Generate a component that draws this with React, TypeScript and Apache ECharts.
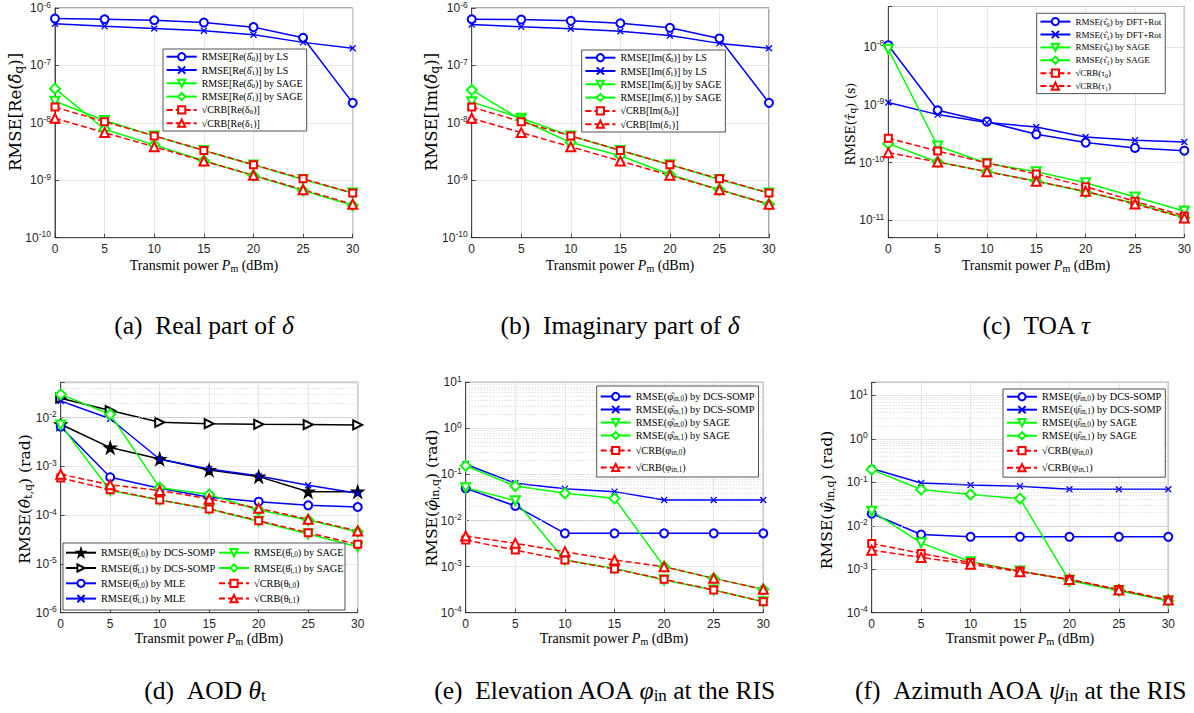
import React, { useEffect, useRef } from 'react';
import * as echarts from 'echarts';

const powers = [0, 5, 10, 15, 20, 25, 30];

// (a) Real part of delta
const aLS0 = [6.55e-7, 6.37e-7, 6.12e-7, 5.58e-7, 4.64e-7, 3.03e-7, 2.23e-8];
const aLS1 = [5.3e-7, 4.82e-7, 4.4e-7, 4.01e-7, 3.42e-7, 2.52e-7, 1.99e-7];
const aSAGE0 = [2.38e-8, 1.1e-8, 5.93e-9, 3.31e-9, 1.85e-9, 1.03e-9, 5.98e-10];
const aSAGE1 = [3.94e-8, 7.73e-9, 4.14e-9, 2.19e-9, 1.21e-9, 6.65e-10, 3.66e-10];
const aCRB0 = [1.88e-8, 1.05e-8, 5.93e-9, 3.31e-9, 1.87e-9, 1.06e-9, 5.98e-10];
const aCRB1 = [1.2e-8, 6.76e-9, 3.83e-9, 2.16e-9, 1.22e-9, 6.84e-10, 3.81e-10];

// (b) Imaginary part of delta
const bLS0 = [6.37e-7, 6.29e-7, 5.97e-7, 5.43e-7, 4.52e-7, 2.95e-7, 2.23e-8];
const bLS1 = [5.15e-7, 4.7e-7, 4.34e-7, 3.95e-7, 3.33e-7, 2.42e-7, 1.99e-7];
const bSAGE0 = [2.32e-8, 1.2e-8, 5.93e-9, 3.31e-9, 1.87e-9, 1.03e-9, 5.98e-10];
const bSAGE1 = [3.74e-8, 1.12e-8, 4.55e-9, 2.67e-9, 1.26e-9, 6.84e-10, 3.81e-10];
const bCRB0 = [1.88e-8, 1.05e-8, 5.93e-9, 3.31e-9, 1.87e-9, 1.06e-9, 5.98e-10];
const bCRB1 = [1.2e-8, 6.76e-9, 3.83e-9, 2.16e-9, 1.22e-9, 6.84e-10, 3.81e-10];

// (c) TOA
const cDFT0 = [1.07e-8, 8.0e-10, 5.09e-10, 3.07e-10, 2.21e-10, 1.79e-10, 1.6e-10];
const cDFT1 = [1.09e-9, 6.74e-10, 4.9e-10, 4.12e-10, 2.77e-10, 2.42e-10, 2.27e-10];
const cSAGE0 = [9.1e-9, 1.93e-10, 9.7e-11, 6.9e-11, 4.48e-11, 2.53e-11, 1.45e-11];
const cSAGE1 = [2.12e-10, 1.02e-10, 6.95e-11, 4.78e-11, 3.09e-11, 1.97e-11, 1.11e-11];
const cCRB0 = [2.62e-10, 1.58e-10, 9.82e-11, 6.34e-11, 3.82e-11, 2.13e-11, 1.19e-11];
const cCRB1 = [1.48e-10, 1.02e-10, 6.95e-11, 4.73e-11, 3.17e-11, 1.91e-11, 1.1e-11];

// (d) AOD
const dDCS0 = [7.3e-3, 2.43e-3, 1.42e-3, 8.44e-4, 6.16e-4, 3.03e-4, 3.03e-4];
const dDCS1 = [2.5e-2, 1.4e-2, 8.02e-3, 7.53e-3, 7.3e-3, 7.2e-3, 7.07e-3];
const dMLE0 = [6.5e-3, 6.0e-4, 3.55e-4, 2.32e-4, 1.89e-4, 1.59e-4, 1.47e-4];
const dMLE1 = [2.2e-2, 9.5e-3, 1.4e-3, 8.85e-4, 6.36e-4, 4.09e-4, 2.81e-4];
const dSAGE0 = [7.1e-3, 3.2e-4, 2.05e-4, 1.34e-4, 7.48e-5, 4.11e-5, 2.26e-5];
const dSAGE1 = [3.0e-2, 1.17e-2, 3.66e-4, 2.64e-4, 1.28e-4, 7.96e-5, 4.59e-5];
const dCRB0 = [5.78e-4, 3.33e-4, 2.05e-4, 1.34e-4, 7.7e-5, 4.37e-5, 2.52e-5];
const dCRB1 = [6.9e-4, 4.2e-4, 3.2e-4, 2.15e-4, 1.38e-4, 8.2e-5, 4.73e-5];

// (e) Elevation AOA
const eDCS0 = [5.0e-2, 2.07e-2, 5.27e-3, 5.27e-3, 5.27e-3, 5.27e-3, 5.27e-3];
const eDCS1 = [0.166, 6.42e-2, 4.92e-2, 4.24e-2, 2.79e-2, 2.79e-2, 2.79e-2];
const eSAGE0 = [5.17e-2, 2.7e-2, 1.39e-3, 9.16e-4, 5.12e-4, 3.1e-4, 1.73e-4];
const eSAGE1 = [0.155, 5.62e-2, 3.9e-2, 3.03e-2, 9.97e-4, 5.56e-4, 3.21e-4];
const eCRB0 = [3.77e-3, 2.29e-3, 1.39e-3, 8.87e-4, 5.3e-4, 3.1e-4, 1.73e-4];
const eCRB1 = [4.61e-3, 3.2e-3, 2.11e-3, 1.39e-3, 9.97e-4, 5.56e-4, 3.21e-4];

// (f) Azimuth AOA
const fDCS0 = [1.91e-2, 6.3e-3, 5.57e-3, 5.57e-3, 5.57e-3, 5.57e-3, 5.57e-3];
const fDCS1 = [0.207, 9.68e-2, 8.7e-2, 8.12e-2, 6.93e-2, 6.93e-2, 6.93e-2];
const fSAGE0 = [2.16e-2, 4.05e-3, 1.49e-3, 9.06e-4, 5.63e-4, 3.2e-4, 1.89e-4];
const fSAGE1 = [0.196, 6.81e-2, 5.23e-2, 4.23e-2, 5.43e-4, 3.32e-4, 1.89e-4];
const fCRB0 = [3.92e-3, 2.31e-3, 1.43e-3, 9.06e-4, 5.83e-4, 3.44e-4, 1.95e-4];
const fCRB1 = [2.75e-3, 1.87e-3, 1.31e-3, 8.74e-4, 5.83e-4, 3.32e-4, 1.95e-4];

const yRanges: [number, number][] = [
  [1e-10, 1e-6], [1e-10, 1e-6], [5e-12, 5e-8],
  [1e-6, 0.053], [1e-4, 10], [1e-4, 20],
];

const SERIF = "'Liberation Serif', 'DejaVu Serif', serif";
const WSERIF = "'DejaVu Serif', 'Liberation Serif', serif";
const SANS = "'Liberation Sans', Arial, sans-serif";
const BLUE = '#0000ff', GREEN = '#00ff00', RED = '#ff0000', BLACK = '#000000';
const CROSS = 'path://M0,0L10,10M10,0L0,10';
const STAR = 'path://M5,0L6.12,3.45L9.76,3.45L6.82,5.59L7.94,9.05L5,6.91L2.06,9.05L3.18,5.59L0.24,3.45L3.88,3.45Z';
const H = '\u0302';

const grids = [
  { left: 55, top: 6.5, width: 297.7, height: 231.2 },
  { left: 471.7, top: 6.5, width: 297.3, height: 231.2 },
  { left: 888.3, top: 6.5, width: 296.4, height: 231.2 },
  { left: 60.7, top: 382.3, width: 297, height: 230.4 },
  { left: 465.7, top: 382.3, width: 297.6, height: 230.4 },
  { left: 871.7, top: 382.3, width: 296.6, height: 230.4 },
];

type Mk = { sym: string; size: number; rot?: number };
const M: Record<string, Mk> = {
  circ: { sym: 'emptyCircle', size: 8 },
  x: { sym: CROSS, size: 6 },
  tdown: { sym: 'emptyTriangle', size: 9, rot: 180 },
  tup: { sym: 'emptyTriangle', size: 9 },
  tright: { sym: 'emptyTriangle', size: 9, rot: -90 },
  dia: { sym: 'emptyDiamond', size: 10 },
  sq: { sym: 'emptyRect', size: 7 },
  star: { sym: STAR, size: 12 },
};

function line(g: number, name: string, data: number[], color: string, mk: Mk, dashed = false) {
  return {
    type: 'line',
    name,
    xAxisIndex: g,
    yAxisIndex: g,
    data: powers.map((p, i) => [p, data[i]]),
    symbol: mk.sym,
    symbolSize: mk.size,
    symbolRotate: mk.rot || 0,
    lineStyle: { color, width: 1.5, type: dashed ? [6, 3] : 'solid' },
    itemStyle: { color, borderColor: color, borderWidth: 1.3 },
    z: 2,
  };
}

const N = {
  a: [
    `RMSE[Re(δ${H}{s|0})] by LS`, `RMSE[Re(δ${H}{s|1})] by LS`,
    `RMSE[Re(δ${H}{s|0})] by SAGE`, `RMSE[Re(δ${H}{s|1})] by SAGE`,
    `√CRB[Re(δ{s|0})]`, `√CRB[Re(δ{s|1})]`,
  ],
  b: [
    `RMSE[Im(δ${H}{s|0})] by LS`, `RMSE[Im(δ${H}{s|1})] by LS`,
    `RMSE[Im(δ${H}{s|0})] by SAGE`, `RMSE[Im(δ${H}{s|1})] by SAGE`,
    `√CRB[Im(δ{s|0})]`, `√CRB[Im(δ{s|1})]`,
  ],
  c: [
    `RMSE(τ${H}{s|0}) by DFT+Rot`, `RMSE(τ${H}{s|1}) by DFT+Rot`,
    `RMSE(τ${H}{s|0}) by SAGE`, `RMSE(τ${H}{s|1}) by SAGE`,
    `√CRB(τ{s|0})`, `√CRB(τ{s|1})`,
  ],
  d: [
    `RMSE(θ${H}{s|t,0}) by DCS-SOMP`, `RMSE(θ${H}{s|t,1}) by DCS-SOMP`,
    `RMSE(θ${H}{s|t,0}) by MLE`, `RMSE(θ${H}{s|t,1}) by MLE`,
    `RMSE(θ${H}{s|t,0}) by SAGE`, `RMSE(θ${H}{s|t,1}) by SAGE`,
    `√CRB(θ{s|t,0})`, `√CRB(θ{s|t,1})`,
  ],
  e: [
    `RMSE(φ${H}{s|in,0}) by DCS-SOMP`, `RMSE(φ${H}{s|in,1}) by DCS-SOMP`,
    `RMSE(φ${H}{s|in,0}) by SAGE`, `RMSE(φ${H}{s|in,1}) by SAGE`,
    `{r|√}CRB(φ{s|in,0})`, `{r|√}CRB(φ{s|in,1})`,
  ],
  f: [
    `RMSE(ψ${H}{s|in,0}) by DCS-SOMP`, `RMSE(ψ${H}{s|in,1}) by DCS-SOMP`,
    `RMSE(ψ${H}{s|in,0}) by SAGE`, `RMSE(ψ${H}{s|in,1}) by SAGE`,
    `{r|√}CRB(ψ{s|in,0})`, `{r|√}CRB(ψ{s|in,1})`,
  ],
};

function minorValues(min: number, max: number) {
  const out: number[] = [];
  for (let k = Math.floor(Math.log10(min)); k <= Math.ceil(Math.log10(max)); k++) {
    for (let m = 2; m <= 9; m++) {
      const v = m * Math.pow(10, k);
      if (v > min * 1.001 && v < max * 0.999) out.push(v);
    }
  }
  return out;
}

function buildOption() {
  const series: any[] = [];
  yRanges.forEach(([mn, mx], g) => {
    series.push({
      type: 'line', xAxisIndex: g, yAxisIndex: g, data: [], silent: true, z: 1,
      markLine: {
        silent: true, symbol: ['none', 'none'], label: { show: false },
        lineStyle: { color: '#c4c4c4', type: [1, 2], width: 0.7 },
        emphasis: { disabled: true },
        data: minorValues(mn, mx).map((v) => ({ yAxis: v })),
      },
    });
  });
  series.push(
    line(0, N.a[0], aLS0, BLUE, M.circ), line(0, N.a[1], aLS1, BLUE, M.x),
    line(0, N.a[2], aSAGE0, GREEN, M.tdown), line(0, N.a[3], aSAGE1, GREEN, M.dia),
    line(0, N.a[4], aCRB0, RED, M.sq, true), line(0, N.a[5], aCRB1, RED, M.tup, true),
    line(1, N.b[0], bLS0, BLUE, M.circ), line(1, N.b[1], bLS1, BLUE, M.x),
    line(1, N.b[2], bSAGE0, GREEN, M.tdown), line(1, N.b[3], bSAGE1, GREEN, M.dia),
    line(1, N.b[4], bCRB0, RED, M.sq, true), line(1, N.b[5], bCRB1, RED, M.tup, true),
    line(2, N.c[0], cDFT0, BLUE, M.circ), line(2, N.c[1], cDFT1, BLUE, M.x),
    line(2, N.c[2], cSAGE0, GREEN, M.tdown), line(2, N.c[3], cSAGE1, GREEN, M.dia),
    line(2, N.c[4], cCRB0, RED, M.sq, true), line(2, N.c[5], cCRB1, RED, M.tup, true),
    line(3, N.d[0], dDCS0, BLACK, M.star), line(3, N.d[1], dDCS1, BLACK, M.tright),
    line(3, N.d[2], dMLE0, BLUE, M.circ), line(3, N.d[3], dMLE1, BLUE, M.x),
    line(3, N.d[4], dSAGE0, GREEN, M.tdown), line(3, N.d[5], dSAGE1, GREEN, M.dia),
    line(3, N.d[6], dCRB0, RED, M.sq, true), line(3, N.d[7], dCRB1, RED, M.tup, true),
    line(4, N.e[0], eDCS0, BLUE, M.circ), line(4, N.e[1], eDCS1, BLUE, M.x),
    line(4, N.e[2], eSAGE0, GREEN, M.tdown), line(4, N.e[3], eSAGE1, GREEN, M.dia),
    line(4, N.e[4], eCRB0, RED, M.sq, true), line(4, N.e[5], eCRB1, RED, M.tup, true),
    line(5, N.f[0], fDCS0, BLUE, M.circ), line(5, N.f[1], fDCS1, BLUE, M.x),
    line(5, N.f[2], fSAGE0, GREEN, M.tdown), line(5, N.f[3], fSAGE1, GREEN, M.dia),
    line(5, N.f[4], fCRB0, RED, M.sq, true), line(5, N.f[5], fCRB1, RED, M.tup, true),
  );

  const axisCommon = {
    axisLine: { show: true, onZero: false, lineStyle: { color: '#262626', width: 0.8 } },
    axisTick: { show: true, inside: true, length: 4, lineStyle: { color: '#262626', width: 0.8 } },
    splitLine: { show: true, lineStyle: { color: '#e2e2e2', width: 0.8 } },
  };
  const xAxis = grids.map((_, g) => ({
    type: 'value', gridIndex: g, min: 0, max: 30, interval: 5, ...axisCommon,
    axisLabel: { fontFamily: SANS, fontSize: 12, color: '#262626', margin: 5 },
  }));
  const yAxis = yRanges.map(([mn, mx], g) => ({
    type: 'log', logBase: 10, gridIndex: g, min: mn, max: mx, ...axisCommon,
    axisLabel: {
      fontFamily: SANS, fontSize: 12, color: '#262626', margin: 4,
      formatter: (v: number) => {
        const l = Math.log10(v);
        const r = Math.round(l);
        if (Math.abs(l - r) > 1e-6) return '';
        return '10{e|' + r + '}';
      },
      rich: { e: { fontFamily: SANS, fontSize: 8.5, color: '#262626', lineHeight: 9, padding: [0, 0, 7, 0] } },
    },
  }));

  const legRich = (fs: number) => ({
    s: { fontSize: fs * 0.7, lineHeight: fs * 0.7, padding: [5, 0, 0, 0] },
    r: { lineHeight: 16 },
  });
  const legBase = (fs: number, boxed = true) => ({
    orient: 'vertical', itemWidth: 30, itemHeight: 9, selectedMode: false, z: 10,
    backgroundColor: boxed ? '#fff' : 'transparent',
    borderColor: '#262626', borderWidth: boxed ? 0.8 : 0, borderRadius: 0,
    textStyle: { fontFamily: SERIF, fontSize: fs, color: '#000', lineHeight: 12, rich: legRich(fs) },
  });
  const legend = [
    { ...legBase(10), left: 163, top: 49, itemGap: 1.3, padding: [1.7, 4, 1.8, 2.7], data: N.a },
    { ...legBase(10), left: 581.7, top: 50, itemGap: 1.3, padding: [1.7, 4, 1.8, 2.7], data: N.b },
    { ...legBase(9), left: 1036.7, top: 13.3, itemGap: 0.9, padding: [2.3, 4, 1.5, 2.7], data: N.c },
    { ...legBase(10.3, false), left: 65, top: 546.7, itemGap: 3.3, padding: 0, data: N.d.slice(0, 4) },
    { ...legBase(10.3, false), left: 218, top: 546.7, itemGap: 3.3, padding: 0, data: N.d.slice(4) },
    { ...legBase(10.3), left: 596.7, top: 386, itemGap: 1, padding: [4.5, 4, 1.5, 3], data: N.e },
    { ...legBase(10.3), left: 1003, top: 389, itemGap: 1, padding: [1.7, 4, 1.5, 3], data: N.f },
  ];

  const tstyle = (text: string, fs: number, subFs: number, subPad: number, fam: string) => ({
    text, fontFamily: fam, fontSize: fs, fill: '#000',
    align: 'center', verticalAlign: 'middle', textAlign: 'center', textVerticalAlign: 'middle', legacy: false,
    rich: {
      i: { fontFamily: fam, fontSize: fs, fontStyle: 'italic', fill: '#000' },
      s: { fontFamily: fam, fontSize: subFs, fill: '#000', padding: [subPad, 0, 0, 0] },
    },
  });
  const T = (x: number, y: number, text: string, fs: number, subFs: number, subPad: number, rot = 0, fam = SERIF) => ({
    type: 'text', x, y, rotation: rot, z: 20, silent: true, style: tstyle(text, fs, subFs, subPad, fam),
  });
  const xTitle = 'Transmit power {i|P}{s|m} (dBm)';
  const R = Math.PI / 2;
  const graphic = [
    { type: 'rect', z: 5, silent: true, shape: { x: 63, y: 543, width: 282, height: 67 }, style: { fill: '#fff', stroke: '#262626', lineWidth: 0.8 } },
    T(204, 265, xTitle, 14, 10, 6), T(620, 265, xTitle, 14, 10, 6), T(1036, 265, xTitle, 14, 10, 6),
    T(209, 638, xTitle, 14, 10, 6), T(614, 638, xTitle, 14, 10, 6), T(1020, 638, xTitle, 14, 10, 6),
    T(15, 112, `RMSE[Re({i|δ${H}}{s|q})]`, 16.5, 12, 7, R, WSERIF),
    T(431, 112, `RMSE[Im({i|δ${H}}{s|q})]`, 16.5, 12, 7, R, WSERIF),
    T(850, 124, `RMSE({i|τ${H}}{s|q}) (s)`, 12.5, 9, 5, R, WSERIF),
    T(25, 499, `RMSE({i|θ${H}}{s|t,q}) (rad)`, 15.5, 11, 6, R, WSERIF),
    T(432, 498, `RMSE({i|φ${H}}{s|in,q}) (rad)`, 15.5, 11, 6, R, WSERIF),
    T(827, 500, `RMSE({i|ψ${H}}{s|in,q}) (rad)`, 15.5, 11, 6, R, WSERIF),
    T(204, 325, '(a)\u00a0\u00a0Real part of {i|δ}', 25.5, 17, 10),
    T(620, 325, '(b)\u00a0\u00a0Imaginary part of {i|δ}', 25.5, 17, 10),
    T(1036, 325, '(c)\u00a0\u00a0TOA {i|τ}', 25.5, 17, 10),
    T(205, 690, '(d)\u00a0\u00a0AOD {i|θ}{s|t}', 25.5, 17, 10),
    T(604, 690, '(e)\u00a0\u00a0Elevation AOA {i|φ}{s|in} at the RIS', 25.5, 17, 10),
    T(1020, 690, '(f)\u00a0\u00a0Azimuth AOA {i|ψ}{s|in} at the RIS', 25.5, 17, 10),
  ];

  return {
    animation: false,
    backgroundColor: '#fff',
    grid: grids.map((g) => ({ ...g, show: true, borderColor: '#262626', borderWidth: 0.8, backgroundColor: 'transparent', containLabel: false })),
    xAxis,
    yAxis,
    legend,
    graphic,
    series,
  };
}

export default function App() {
  const ref = useRef<HTMLDivElement>(null);
  useEffect(() => {
    const chart = echarts.init(ref.current!, null, { renderer: 'svg' });
    chart.setOption(buildOption() as any);
    return () => chart.dispose();
  }, []);
  return (
    <div
      ref={ref}
      style={{ position: 'fixed', left: 0, top: 0, width: 1194, height: 713, background: '#fff' }}
    />
  );
}
